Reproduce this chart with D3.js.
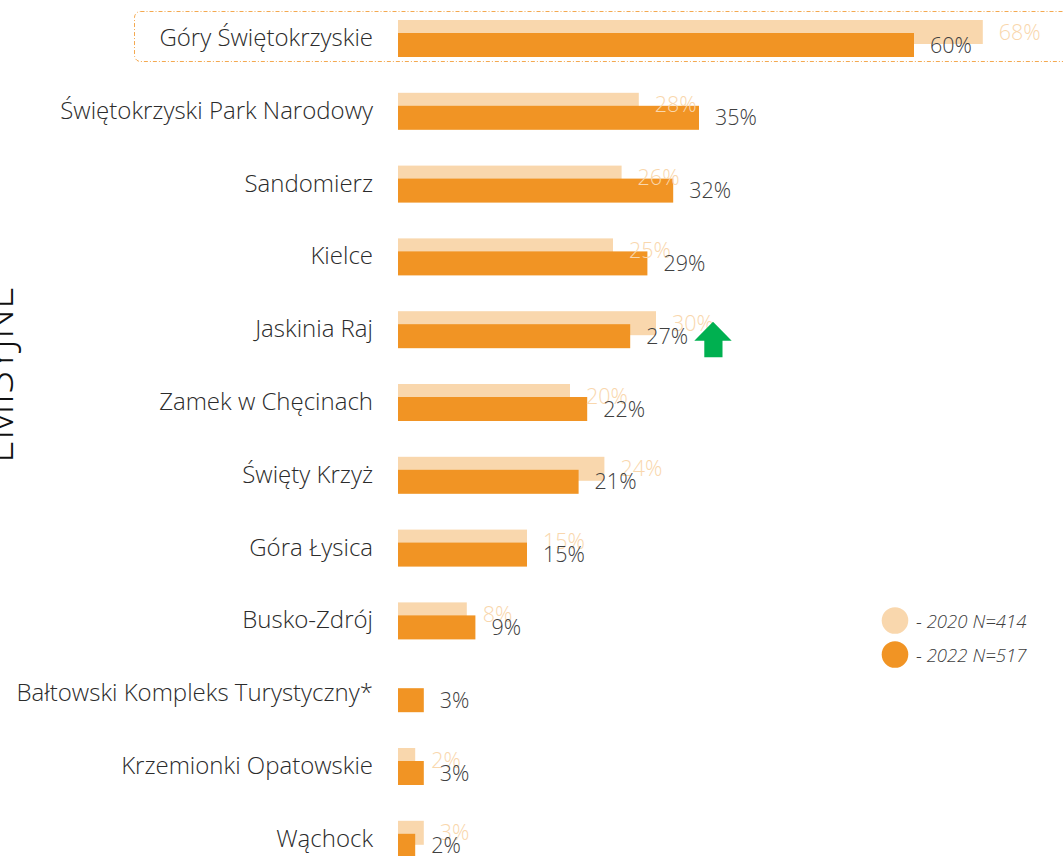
<!DOCTYPE html>
<html><head><meta charset="utf-8">
<script src="https://cdn.jsdelivr.net/npm/d3@7"></script>
<style>
html,body{margin:0;padding:0;background:#fff;}
svg{display:block;font-family:"Open Sans",sans-serif;}
</style></head>
<body>
<svg id="chart" width="1063" height="856"></svg>
<script>
const categories = ["Góry Świętokrzyskie","Świętokrzyski Park Narodowy","Sandomierz","Kielce","Jaskinia Raj","Zamek w Chęcinach","Święty Krzyż","Góra Łysica","Busko-Zdrój","Bałtowski Kompleks Turystyczny*","Krzemionki Opatowskie","Wąchock"];
const values2020 = [68,28,26,25,30,20,24,15,8,null,2,3];
const values2022 = [60,35,32,29,27,22,21,15,9,3,3,2];
const seriesLabels = ["- 2020 N=414","- 2022 N=517"];
const sideTitle = "EMISYJNE";
const colorLight = "#F9D7AD", colorDark = "#F19424", textDark = "#404040";

const svg = d3.select("#chart");
const x = d3.scaleLinear().domain([0,100]).range([398, 398+860]);
const y = d3.scaleBand().domain(categories).range([8, 8 + 12*72.8]).padding(0);

// highlight box around first row
svg.append("rect").attr("x",134.5).attr("y",11.5).attr("width",1000).attr("height",50)
  .attr("rx",6).attr("fill","none").attr("stroke",colorDark).attr("stroke-opacity",0.8)
  .attr("stroke-width",1).attr("stroke-dasharray","4,2,1,2");

// side title
svg.append("text").attr("transform","translate(13,463) rotate(-90)")
  .attr("font-size",41.5).attr("font-weight",300).attr("fill","#111").text(sideTitle);

// category labels
svg.selectAll("text.cat").data(categories).join("text").attr("class","cat")
  .attr("x",373).attr("y",c=>y(c)+29.5).attr("dy","0.35em").attr("text-anchor","end")
  .attr("font-size",24).attr("font-weight",300).attr("fill","#2b2b2b").text(c=>c);

const rows = categories.map((c,i)=>({c, v20:values2020[i], v22:values2022[i]}));
// light bars
svg.selectAll("rect.l").data(rows.filter(d=>d.v20!=null)).join("rect").attr("class","l")
  .attr("x",x(0)).attr("y",d=>y(d.c)+12).attr("width",d=>x(d.v20)-x(0)).attr("height",24)
  .attr("fill",colorLight);
// dark bars
svg.selectAll("rect.d").data(rows).join("rect").attr("class","d")
  .attr("x",x(0)).attr("y",d=>y(d.c)+25).attr("width",d=>x(d.v22)-x(0)).attr("height",24)
  .attr("fill",colorDark);
// light labels
svg.selectAll("text.ll").data(rows.filter(d=>d.v20!=null)).join("text").attr("class","ll")
  .attr("x",d=>x(d.v20)+16).attr("y",d=>y(d.c)+24).attr("dy","0.35em")
  .attr("font-size",21.5).attr("font-weight",300).attr("fill",colorLight).text(d=>d.v20+"%");
// dark labels
svg.selectAll("text.dl").data(rows).join("text").attr("class","dl")
  .attr("x",d=>x(d.v22)+16).attr("y",d=>y(d.c)+37).attr("dy","0.35em")
  .attr("font-size",21.5).attr("font-weight",300).attr("fill",textDark).text(d=>d.v22+"%");

// green up arrow next to Jaskinia Raj
const ay = y("Jaskinia Raj");
const ax = 713;
svg.append("path").attr("fill","#00B050")
  .attr("d",`M${ax},${ay+22.5} L${ax+18.7},${ay+41.5} L${ax+9.5},${ay+41.5} L${ax+9.5},${ay+58} L${ax-8.7},${ay+58} L${ax-8.7},${ay+41.5} L${ax-18.7},${ay+41.5} Z`);

// legend
const leg = svg.append("g");
[colorLight,colorDark].forEach((col,i)=>{
  leg.append("circle").attr("cx",895).attr("cy",620.5+i*34).attr("r",13.3).attr("fill",col);
  leg.append("text").attr("x",916).attr("y",621+i*34).attr("dy","0.35em")
    .attr("font-size",18.6).attr("font-weight",300).attr("font-style","italic").attr("fill",textDark).text(seriesLabels[i]);
});
</script>
</body></html>
